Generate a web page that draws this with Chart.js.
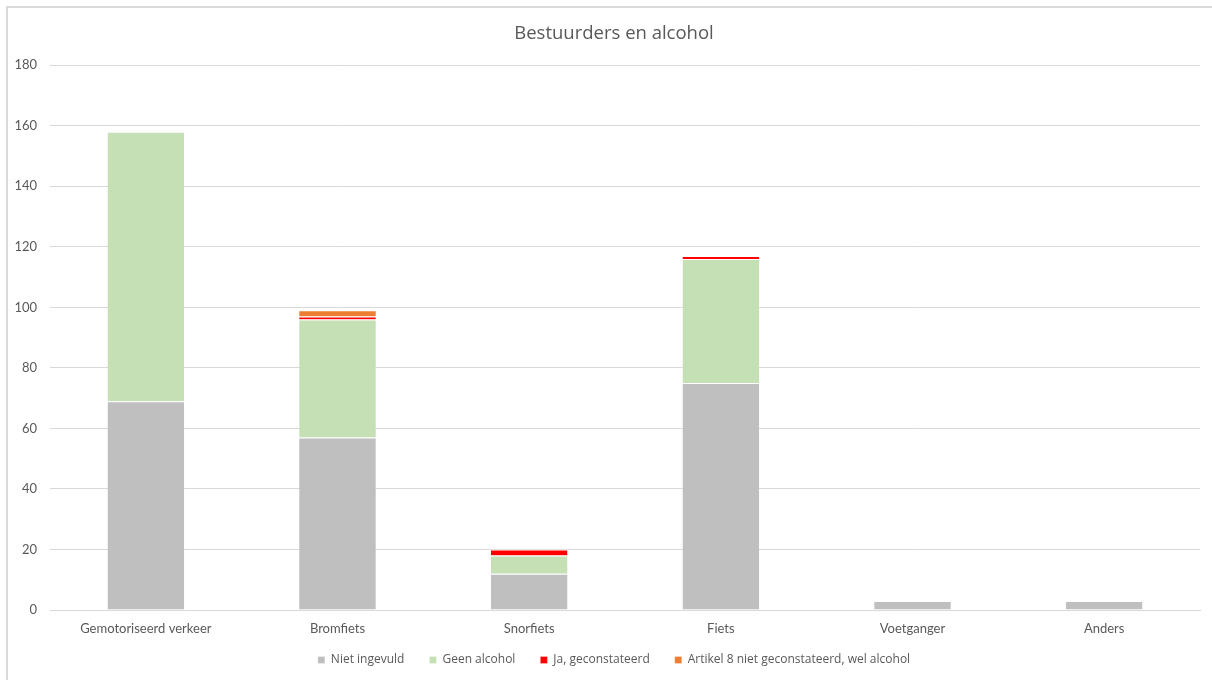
<!DOCTYPE html>
<html>
<head>
<meta charset="utf-8">
<script src="https://cdn.jsdelivr.net/npm/chart.js@4/dist/chart.umd.min.js"></script>
<style>
  body { margin: 0; background: #fff; }
  #wrap { position: relative; width: 1212px; height: 680px; }
  #frame { position: absolute; left: 6px; top: 6px; width: 1300px; height: 800px;
           border-left: 2px solid #d9d9d9; border-top: 2px solid #d9d9d9; pointer-events: none; }
</style>
</head>
<body>
<div id="wrap">
  <canvas id="myChart" width="1212" height="680"></canvas>
  <div id="frame"></div>
</div>
<script>
// vervoerswijzen en aantallen per alcoholstatus
var categories = ['Gemotoriseerd verkeer', 'Bromfiets', 'Snorfiets', 'Fiets', 'Voetganger', 'Anders'];
var nietIngevuld = [69, 57, 12, 75, 3, 3];
var geenAlcohol = [89, 39, 6, 41, 0, 0];
var jaGeconstateerd = [0, 1, 2, 1, 0, 0];
var artikel8 = [0, 2, 0, 0, 0, 0];
var yTicks = [0, 20, 40, 60, 80, 100, 120, 140, 160, 180];

var fontFam = "'Open Sans', sans-serif";
var axisFam = "Lato, 'Open Sans', sans-serif";
var grey = '#595959';

function makeSet(label, values, color) {
    return {
        label: label,
        data: values,
        backgroundColor: color,
        borderColor: '#ffffff',
        borderWidth: { top: 1, bottom: 0, left: 0, right: 0 },
        borderSkipped: false,
        categoryPercentage: 1,
        barPercentage: 0.4
    };
}

// labels mogen buiten het vak van de as vallen
function noLabelClip(scale) {
    scale._computeLabelArea = function () {};
}

var ctx = document.getElementById('myChart');
new Chart(ctx, {
    type: 'bar',
    data: {
        labels: categories,
        datasets: [
            makeSet('Niet ingevuld', nietIngevuld, '#bfbfbf'),
            makeSet('Geen alcohol', geenAlcohol, '#c5e0b4'),
            makeSet('Ja, geconstateerd', jaGeconstateerd, '#ff0000'),
            makeSet('Artikel 8 niet geconstateerd, wel alcohol', artikel8, '#ed7d31')
        ]
    },
    options: {
        responsive: false,
        animation: false,
        layout: { padding: { left: 28, right: 12, top: 14, bottom: 4 } },
        plugins: {
            title: {
                display: true,
                text: 'Bestuurders en alcohol',
                color: grey,
                font: { family: fontFam, size: 18.5, weight: 'normal' },
                padding: { top: 9, bottom: 20 }
            },
            legend: {
                position: 'bottom',
                labels: {
                    color: grey,
                    font: { family: fontFam, size: 12 },
                    boxWidth: 7,
                    boxHeight: 7,
                    padding: 25
                }
            },
            tooltip: { enabled: false }
        },
        scales: {
            x: {
                stacked: true,
                grid: { display: false, drawTicks: false },
                border: { color: '#d9d9d9' },
                ticks: { color: grey, font: { family: axisFam, size: 13 }, padding: 11 },
                afterFit: function (scale) { scale.height = 19; noLabelClip(scale); }
            },
            y: {
                stacked: true,
                min: 0,
                max: 180,
                afterBuildTicks: function (scale) {
                    scale.ticks = yTicks.map(function (v) { return { value: v }; });
                },
                afterFit: function (scale) { scale.width = 22; noLabelClip(scale); },
                grid: { color: '#d9d9d9', drawTicks: false },
                border: { display: false },
                ticks: { color: grey, font: { family: axisFam, size: 13 }, padding: 13 }
            }
        }
    }
});
</script>
</body>
</html>
